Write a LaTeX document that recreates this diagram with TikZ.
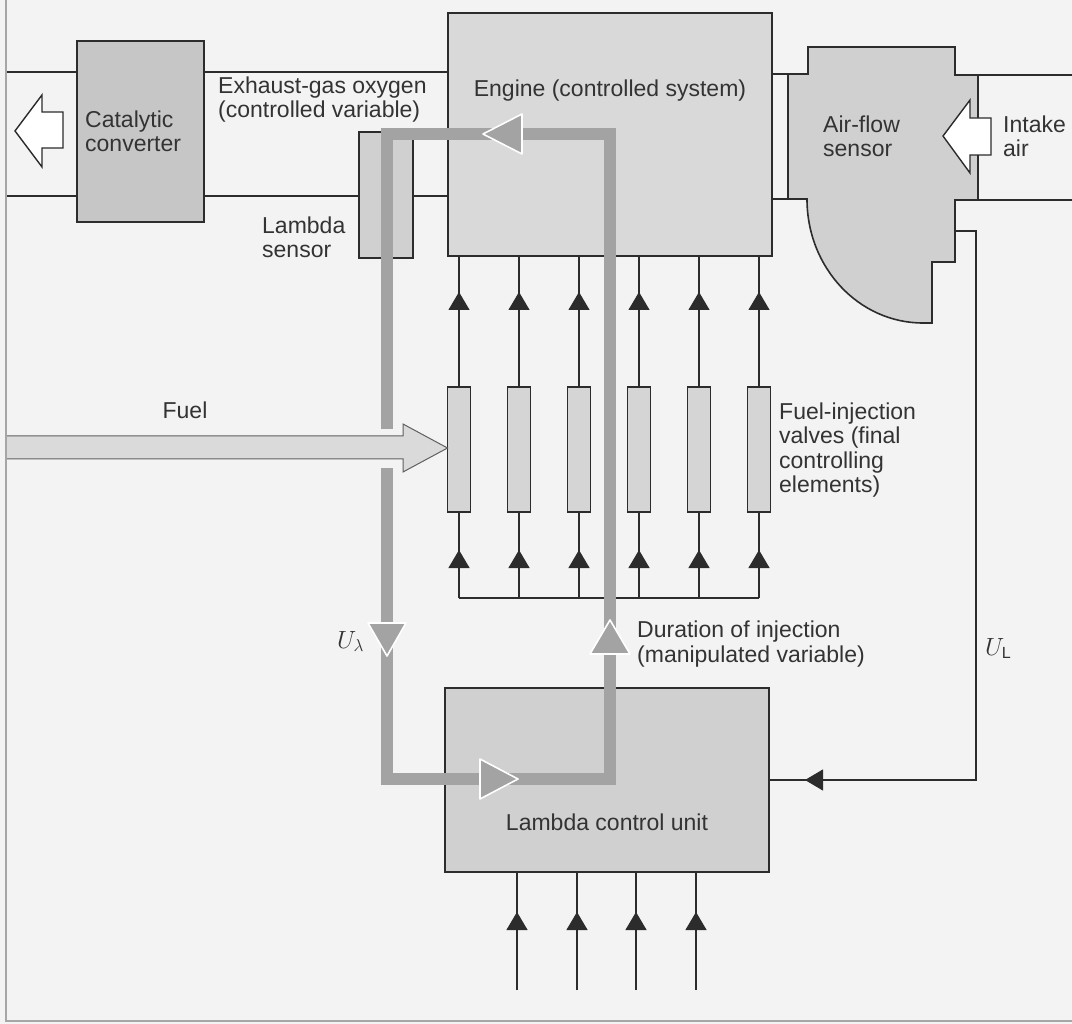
\documentclass[tikz,border=0pt]{standalone}
\usepackage{fontspec}
\setmainfont{Liberation Sans}
\usetikzlibrary{arrows.meta,positioning,decorations.markings}
\definecolor{paper}{HTML}{F3F3F3}
\definecolor{ink}{HTML}{2C2C2C}
\definecolor{txt}{HTML}{333333}
\definecolor{catgray}{HTML}{C6C6C6}
\definecolor{enggray}{HTML}{D9D9D9}
\definecolor{unitgray}{HTML}{D0D0D0}
\definecolor{valvegray}{HTML}{D5D5D5}
\definecolor{loopgray}{HTML}{A3A3A3}
\definecolor{fuelgray}{HTML}{DADADA}
\tikzset{
  box/.style={draw=ink,line width=1.6pt,inner sep=0pt,outer sep=0pt},
  pipe/.style={ink,line width=1.6pt},
  wire/.style={ink,line width=1.2pt},
  tipmark/.style={postaction={decorate},decoration={markings,
    mark=at position #1 with {\arrow{Triangle[length=18pt,width=21pt]}}}},
  tipmark/.default=-37pt,
  lbl/.style={text=txt,inner sep=0pt,align=left},
  loopband/.style={loopgray,line width=12.5pt,line join=miter},
  looptip/.style={fill=loopgray,draw=white,line width=1.6pt,line join=round},
  hollow/.style={fill=white,draw=ink,line width=1.4pt,line join=miter}
}

\begin{document}
\begin{tikzpicture}[x=1pt,y=-1pt,font=\fontsize{23}{24.5}\selectfont]
\useasboundingbox (0,0) rectangle (1072,1024);
\fill[paper] (0,0) rectangle (1072,1024);
% blocks
\node[box,fill=catgray,minimum width=127pt,minimum height=181pt] (cat) at (140.5,131.5) {};
\node[box,fill=enggray,minimum width=324pt,minimum height=243pt] (engine) at (610,134.5) {};
\node[box,fill=unitgray,minimum width=54pt,minimum height=126pt] (lsensor) at (386,195) {};
\node[box,fill=unitgray,minimum width=324pt,minimum height=184pt] (lcu) at (607,780) {};
\foreach \x [count=\i] in {459,519,579,639,699,759}
  \node[box,fill=valvegray,minimum width=23pt,minimum height=125pt] (v\i) at (\x,449.5) {};
% exhaust pipe
\coordinate (pipeT) at (0,72);
\coordinate (pipeB) at (0,196);
\draw[pipe] (6,72) -- (cat.west |- pipeT);
\draw[pipe] (cat.east |- pipeT) -- (engine.west |- pipeT);
\draw[pipe] (6,196) -- (cat.west |- pipeB);
\draw[pipe] (cat.east |- pipeB) -- (lsensor.west |- pipeB);
\draw[pipe] (lsensor.east |- pipeB) -- (engine.west |- pipeB);
% intake pipe and air-flow sensor
\draw[pipe] (engine.east |- 0,74) -- (788,74);
\draw[pipe] (engine.east |- 0,199) -- (788,199);
\draw[pipe] (978,75) -- (1072,75);
\draw[pipe] (978,200) -- (1072,200);
\draw[ink,line width=1.6pt,fill=unitgray,line join=miter] (788,74) -- (808,74) -- (808,47)
  -- (955,47) -- (955,75) -- (978,75) -- (978,200) -- (955,200) -- (955,262) -- (932,262)
  -- (932,323) -- (923,323) .. controls (859,323) and (807,268) .. (807,199) -- (788,199) -- cycle;
\coordinate (afsport) at (955,231);
% injector wiring
\coordinate (bus) at (0,598);
\foreach \i in {1,...,6} {
  \draw[wire,tipmark=-36pt] (v\i.north) -- (v\i.north |- engine.south);
  \draw[wire,tipmark=-38pt] (v\i.south |- bus) -- (v\i.south);
}
\draw[wire] (v1.south |- bus) -- (v6.south |- bus);
% control unit inputs
\foreach \x [count=\i] in {517,577,636,696} {
  \coordinate (in\i) at (\x,990);
  \draw[wire,tipmark=-40pt] (in\i) -- (in\i |- lcu.south);
}
\draw[wire,tipmark=-36pt] (afsport) -- (976,231) |- (lcu.east);
% control loop
\draw[loopband] (387,429) -- (387,134) -- (610,134) -- (610,779) -- (387,779) -- (387,468);
\draw[looptip] (483,134) -- (522,114) -- (522,154) -- cycle;
\draw[looptip] (610,620) -- (630,654) -- (590,654) -- cycle;
\draw[looptip] (518,779) -- (480,759) -- (480,799) -- cycle;
\draw[looptip] (387,656) -- (368,623) -- (406,623) -- cycle;
% fuel, exhaust and intake arrows
\draw[fill=fuelgray,draw=gray!75!black,line width=1pt,line join=miter]
  (6,436) -- (403,436) -- (403,424) -- (v1.west |- 0,448) -- (403,472) -- (403,459) -- (6,459);
\draw[hollow] (15,131) -- (42,95) -- (42,112) -- (63,112) -- (63,148) -- (42,148) -- (42,167) -- cycle;
\draw[hollow] (943,136) -- (970,100) -- (970,118) -- (991,118) -- (991,155) -- (970,155) -- (970,173) -- cycle;
% frame
\draw[gray!70,line width=2pt] (6,0) -- (6,1021) -- (1072,1021);
% labels
\node[lbl,anchor=base west] (catlbl) at (85,152) {Catalytic\\converter};
\node[lbl,anchor=base west] (exhlbl) at (218,118) {Exhaust-gas oxygen\\(controlled variable)};
\node[lbl,anchor=base west] (lslbl) at (262,258) {Lambda\\sensor};
\node[lbl,anchor=base] (englbl) at (610,97) {Engine (controlled system)};
\node[lbl,anchor=base west] (afslbl) at (823,157) {Air-flow\\sensor};
\node[lbl,anchor=base west] (airlbl) at (1003,157) {Intake\\air};
\node[lbl,anchor=base] (fuellbl) at (185,419) {Fuel};
\node[lbl,anchor=base west] (vlvlbl) at (779,493) {Fuel-injection\\valves (final\\controlling\\elements)};
\node[lbl,anchor=base west] (durlbl) at (637,662) {Duration of injection\\(manipulated variable)};
\node[lbl,anchor=base west] (ulam) at (337,648) {$U_\lambda$};
\node[lbl,anchor=base west] (ulair) at (985,655) {$U_{\mathrm{L}}$};
\node[lbl,anchor=base] (lculbl) at (607,830) {Lambda control unit};
\end{tikzpicture}
\end{document}
